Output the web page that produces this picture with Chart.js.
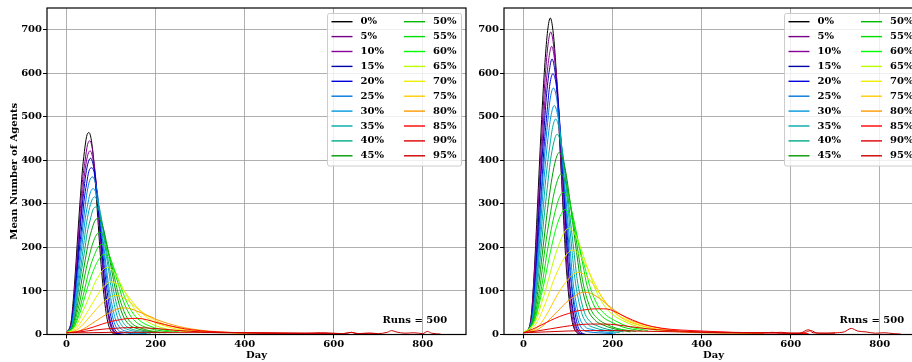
<!DOCTYPE html>
<html lang="en">
<head>
<meta charset="UTF-8" />
<title>Mean Number of Agents</title>
<script src="https://cdn.jsdelivr.net/npm/chart.js"></script>
<style>
    body { margin: 0; background: #fff; }
    #wrap { position: relative; width: 912px; height: 362px; overflow: hidden; background: #fff; }
    #leftChart { position: absolute; left: 0; top: 0; }
    #rightChart { position: absolute; left: 470px; top: 0; }
</style>
</head>
<body>
<div id="wrap">
    <canvas id="leftChart" width="470" height="362"></canvas>
    <canvas id="rightChart" width="457" height="362"></canvas>
</div>
<script>
    const pctLabels = ['0%', '5%', '10%', '15%', '20%', '25%', '30%', '35%', '40%', '45%',
        '50%', '55%', '60%', '65%', '70%', '75%', '80%', '85%', '90%', '95%'];
    const lineColors = ['#000000', '#770088', '#880099', '#0000aa', '#0000dd', '#0077dd', '#0099dd',
        '#00aaaa', '#00aa88', '#009900', '#00bb00', '#00dd00', '#00ff00', '#bbff00', '#eeee00',
        '#ffcc00', '#ff9900', '#ff0000', '#dd0000', '#cc0000'];
    const xTicks = [0, 200, 400, 600, 800];
    const yTicks = [0, 100, 200, 300, 400, 500, 600, 700];
    const xTitle = 'Day';
    const yTitle = 'Mean Number of Agents';
    const runsText = 'Runs = 500';

    // [day, mean agents] per series, left panel
    const leftSeries = [
        [[0,4],[10,28],[15,79],[20,148],[25,227],[30,302],[35,371],[40,420],[45,455],[50,464],[55,450],[60,408],[65,343],[70,269],[75,195],[80,130],[90,42],[100,7],[110,1],[125,0],[150,0]],
        [[0,4],[10,27],[16,76],[21,142],[26,218],[31,289],[36,356],[42,403],[47,436],[52,445],[57,432],[62,392],[68,329],[73,258],[78,187],[83,125],[94,40],[104,7],[114,1],[130,0],[156,0]],
        [[0,4],[11,25],[16,72],[21,135],[27,207],[32,274],[37,338],[42,382],[48,414],[53,422],[58,409],[64,371],[69,312],[74,245],[80,177],[85,118],[95,38],[106,6],[117,1],[133,0],[159,0]],
        [[0,4],[11,24],[16,69],[22,130],[27,198],[32,263],[38,324],[43,367],[49,397],[54,405],[59,393],[65,356],[70,300],[76,235],[81,170],[86,113],[97,36],[108,6],[119,1],[135,0],[162,0]],
        [[0,4],[11,23],[17,65],[22,123],[28,188],[34,249],[39,306],[45,347],[50,375],[56,383],[62,372],[67,337],[73,283],[78,222],[84,161],[90,107],[101,34],[112,6],[123,1],[140,0],[168,0]],
        [[0,4],[12,23],[17,63],[23,117],[29,177],[35,235],[41,289],[46,327],[52,354],[58,362],[64,351],[70,319],[75,270],[81,213],[87,156],[93,106],[104,38],[116,10],[128,5],[145,2],[174,1]],
        [[0,4],[12,22],[18,59],[24,108],[30,164],[36,217],[42,267],[48,302],[54,328],[60,335],[66,325],[72,296],[78,251],[84,200],[90,148],[96,103],[108,41],[120,15],[132,8],[150,4],[180,2]],
        [[0,4],[13,22],[19,56],[25,103],[32,155],[38,204],[44,251],[50,284],[57,309],[63,316],[69,307],[76,280],[82,239],[88,191],[95,144],[101,102],[113,44],[126,18],[139,11],[158,6],[189,3]],
        [[0,4],[13,21],[20,53],[26,96],[33,144],[40,189],[46,232],[53,263],[59,286],[66,293],[73,285],[79,260],[86,223],[92,179],[99,137],[106,98],[119,45],[132,21],[145,13],[165,8],[198,4]],
        [[0,4],[14,20],[21,49],[28,87],[35,131],[42,172],[49,211],[56,239],[63,260],[70,267],[77,260],[84,238],[91,204],[98,166],[105,127],[112,93],[126,45],[140,23],[154,15],[175,9],[210,4]],
        [[0,4],[15,18],[22,43],[30,77],[37,115],[44,151],[52,185],[59,210],[67,229],[74,235],[81,229],[89,210],[96,181],[104,148],[111,115],[118,86],[133,44],[148,24],[163,16],[185,9],[222,4]],
        [[0,4],[16,17],[24,39],[32,69],[40,101],[47,133],[55,162],[63,184],[71,201],[79,207],[87,202],[95,185],[103,161],[111,133],[119,106],[126,81],[142,45],[158,27],[174,18],[198,11],[237,5]],
        [[0,4],[17,17],[25,36],[34,62],[42,90],[50,118],[59,144],[67,163],[76,178],[84,184],[92,179],[101,166],[109,145],[118,121],[126,98],[134,77],[151,46],[168,29],[185,20],[210,12],[252,6]],
        [[0,4],[18,15],[27,31],[36,52],[46,75],[55,98],[64,120],[73,136],[82,149],[91,154],[100,150],[109,139],[118,123],[127,104],[137,86],[146,69],[164,43],[182,29],[200,20],[228,12],[273,6]],
        [[0,4],[20,12],[30,25],[40,41],[51,59],[61,77],[71,93],[81,107],[91,117],[101,121],[111,118],[121,110],[131,98],[141,84],[152,70],[162,58],[182,38],[202,26],[222,19],[253,11],[303,5]],
        [[0,4],[22,10],[33,19],[44,31],[55,44],[66,57],[77,69],[88,79],[99,87],[110,90],[121,88],[132,82],[143,74],[154,64],[165,55],[176,47],[198,33],[220,23],[242,17],[275,10],[330,5],[400,3]],
        [[0,4],[25,7],[38,13],[51,21],[64,30],[76,38],[89,46],[102,53],[114,59],[127,61],[140,60],[152,56],[165,51],[178,45],[191,40],[203,34],[229,25],[254,18],[279,13],[318,8],[381,4],[450,3],[520,2]],
        [[0,4],[20,6],[40,11],[60,17],[80,24],[100,30],[120,34],[140,37],[160,37],[180,34],[200,28],[220,23],[250,16],[280,11],[320,7],[360,5],[400,4],[450,3],[500,3],[550,2],[600,2]],
        [[0,4],[30,6],[60,10],[90,13],[120,15],[150,16],[180,15],[210,13],[240,10],[270,8],[300,6],[350,5],[400,4],[450,4],[500,3],[540,3],[570,4],[600,3],[620,2],[640,5],[655,2],[680,3],[700,2]],
        [[0,4],[50,4],[100,5],[150,5],[200,5],[250,5],[300,5],[350,4],[400,4],[450,3],[500,3],[550,3],[580,3],[600,2],[620,2],[630,3],[640,5],[650,2],[680,3],[700,2],[720,5],[730,9],[740,6],[760,3],[780,4],[800,2],[810,7],[820,3],[840,1]]
    ];

    // right panel
    const rightSeries = [
        [[0,4],[12,15],[18,51],[24,145],[30,269],[36,400],[42,523],[48,625],[54,698],[60,727],[66,698],[72,625],[78,509],[84,385],[90,262],[96,153],[108,36],[120,4],[132,0],[150,0]],
        [[0,4],[12,14],[18,49],[24,139],[31,257],[37,382],[43,500],[49,598],[55,667],[61,695],[67,667],[73,598],[79,487],[85,368],[92,250],[98,146],[110,35],[122,3],[134,0],[153,0]],
        [[0,4],[13,13],[19,46],[25,132],[32,245],[38,364],[44,477],[50,569],[57,636],[63,662],[69,636],[76,569],[82,463],[88,351],[95,238],[101,139],[113,33],[126,3],[139,0],[158,0]],
        [[0,4],[13,13],[19,44],[26,127],[32,234],[38,348],[45,456],[51,544],[58,608],[64,633],[70,608],[77,544],[83,443],[90,335],[96,228],[102,133],[115,32],[128,3],[141,0],[160,0]],
        [[0,4],[13,12],[20,42],[26,120],[33,222],[40,329],[46,431],[53,515],[59,575],[66,599],[73,575],[79,515],[86,419],[92,317],[99,216],[106,126],[119,30],[132,3],[145,0],[165,0]],
        [[0,4],[13,14],[20,44],[27,117],[34,213],[40,314],[47,409],[54,487],[60,543],[67,566],[74,544],[80,488],[87,400],[94,306],[101,212],[107,129],[121,38],[134,11],[147,6],[168,4],[201,2]],
        [[0,4],[14,16],[21,45],[28,113],[35,201],[41,294],[48,381],[55,453],[62,505],[69,526],[76,506],[83,456],[90,376],[97,290],[104,205],[110,129],[124,45],[138,18],[152,12],[173,7],[207,3]],
        [[0,4],[14,17],[22,46],[29,110],[36,192],[43,278],[50,359],[58,426],[65,475],[72,495],[79,477],[86,430],[94,357],[101,278],[108,200],[115,130],[130,51],[144,24],[158,16],[180,10],[216,4]],
        [[0,4],[15,18],[23,46],[30,106],[38,181],[45,260],[53,335],[60,397],[68,442],[75,460],[83,443],[90,401],[98,335],[105,263],[113,192],[120,129],[135,56],[150,29],[165,20],[188,12],[225,6]],
        [[0,4],[16,19],[24,45],[32,99],[40,167],[48,238],[56,305],[64,361],[72,401],[80,418],[88,403],[96,366],[104,307],[112,243],[120,181],[128,124],[144,59],[160,33],[176,23],[200,14],[240,6]],
        [[0,4],[17,18],[25,42],[34,90],[42,150],[50,212],[59,270],[67,318],[76,354],[84,369],[92,356],[101,324],[109,274],[118,219],[126,165],[134,116],[151,58],[168,35],[185,24],[210,14],[252,7]],
        [[0,4],[18,20],[27,43],[36,85],[45,137],[53,190],[62,241],[71,283],[80,314],[89,327],[98,317],[107,289],[116,247],[125,201],[134,156],[142,114],[160,63],[178,40],[196,29],[223,17],[267,8]],
        [[0,5],[19,20],[28,42],[37,79],[47,123],[56,169],[65,212],[74,248],[84,276],[93,287],[102,278],[112,255],[121,221],[130,182],[140,145],[149,110],[167,66],[186,44],[205,32],[233,19],[279,9]],
        [[0,5],[20,20],[30,39],[40,71],[51,108],[61,146],[71,182],[81,211],[91,234],[101,244],[111,237],[121,219],[131,191],[141,160],[152,130],[162,102],[182,65],[202,44],[222,32],[253,19],[303,9]],
        [[0,4],[22,17],[33,34],[44,59],[55,88],[65,118],[76,145],[87,168],[98,186],[109,194],[120,189],[131,175],[142,155],[153,131],[164,109],[174,88],[196,59],[218,41],[240,30],[273,18],[327,8]],
        [[0,4],[24,11],[37,23],[49,41],[61,63],[73,86],[85,106],[98,124],[110,137],[122,143],[134,139],[146,128],[159,112],[171,94],[183,76],[195,60],[220,38],[244,26],[268,19],[305,11],[366,5],[420,4]],
        [[0,4],[27,9],[41,18],[54,30],[68,45],[82,59],[95,73],[109,84],[122,93],[136,97],[150,95],[163,88],[177,78],[190,67],[204,56],[218,46],[245,31],[272,22],[299,16],[340,9],[408,4],[470,3],[540,2]],
        [[0,4],[20,12],[40,22],[60,32],[80,41],[100,48],[120,54],[140,57],[160,59],[180,59],[195,57],[210,50],[230,40],[260,27],[290,18],[330,12],[380,9],[420,7],[470,5],[520,4],[580,3],[640,2]],
        [[0,4],[30,8],[60,13],[90,18],[120,22],[150,24],[180,24],[210,22],[240,18],[270,14],[300,11],[350,8],[400,6],[450,5],[500,4],[550,4],[580,5],[600,3],[630,4],[645,9],[660,3],[700,3]],
        [[0,4],[50,6],[100,8],[150,9],[200,9],[250,8],[300,7],[350,6],[400,5],[450,4],[500,4],[540,4],[560,5],[580,3],[620,3],[640,11],[650,4],[680,3],[700,4],[720,6],[736,14],[750,8],[769,6],[790,3],[810,4],[830,2],[847,1]]
    ];

    const serif = '"DejaVu Serif", "Liberation Serif", serif';
    const tickFont = { family: serif, size: 10, weight: 'bold' };
    const gridColor = 'rgba(150,150,150,0.75)';

    // box, legend and texts drawn the matplotlib way
    const framePlugin = {
        id: 'frame',
        afterDraw(chart, args, opts) {
            const ctx = chart.ctx;
            const a = chart.chartArea;
            ctx.save();

            ctx.strokeStyle = '#000';
            ctx.lineWidth = 1.2;
            ctx.strokeRect(a.left, a.top, a.right - a.left, a.bottom - a.top);

            // legend
            const lx = a.left + 280.5, ly = a.top + 5.5;
            ctx.fillStyle = 'rgba(255,255,255,0.8)';
            ctx.strokeStyle = '#cccccc';
            ctx.lineWidth = 1;
            ctx.beginPath();
            ctx.roundRect(lx, ly, 134, 152.5, 2);
            ctx.fill();
            ctx.stroke();

            ctx.font = 'bold 10px ' + serif;
            ctx.textBaseline = 'middle';
            ctx.textAlign = 'left';
            pctLabels.forEach((lab, i) => {
                const col = Math.floor(i / 10), row = i % 10;
                const y = a.top + 13.7 + row * 14.9;
                const x0 = a.left + 284.5 + col * 72.5;
                ctx.strokeStyle = lineColors[i];
                ctx.lineWidth = 1.4;
                ctx.beginPath();
                ctx.moveTo(x0, y);
                ctx.lineTo(x0 + 21, y);
                ctx.stroke();
                ctx.fillStyle = '#000';
                ctx.fillText(lab, a.left + 313.5 + col * 72.5, y);
            });

            ctx.fillStyle = '#000';
            ctx.fillText(runsText, a.left + 335.5, a.top + 312);

            ctx.textAlign = 'center';
            ctx.fillText(xTitle, (a.left + a.right) / 2, 355.5);

            if (opts.yTitle) {
                ctx.translate(14, (a.top + a.bottom) / 2);
                ctx.rotate(-Math.PI / 2);
                ctx.fillText(yTitle, 0, 0);
            }
            ctx.restore();
        }
    };

    function makeChart(id, series, yAxisWidth, showYTitle) {
        const datasets = series.map((pts, i) => ({
            label: pctLabels[i],
            data: pts.map(p => ({ x: p[0], y: p[1] })),
            borderColor: lineColors[i],
            borderWidth: 1,
            pointRadius: 0,
            fill: false,
            cubicInterpolationMode: 'monotone',
            order: series.length - i
        }));

        return new Chart(document.getElementById(id), {
            type: 'line',
            data: { datasets },
            options: {
                responsive: false,
                animation: false,
                layout: { padding: { top: 8, right: 4, left: 0, bottom: 0 } },
                plugins: {
                    legend: { display: false },
                    tooltip: { enabled: false },
                    frame: { yTitle: showYTitle }
                },
                scales: {
                    x: {
                        type: 'linear',
                        min: -44,
                        max: 897,
                        afterBuildTicks: s => { s.ticks = xTicks.map(v => ({ value: v })); },
                        afterFit: s => { s.height = 27.5; },
                        grid: { color: gridColor, lineWidth: 1, tickColor: '#000', tickLength: 4 },
                        border: { display: false },
                        ticks: { color: '#000', font: tickFont, padding: 0, maxRotation: 0, autoSkip: false }
                    },
                    y: {
                        type: 'linear',
                        min: 0,
                        max: 750,
                        afterBuildTicks: s => { s.ticks = yTicks.map(v => ({ value: v })); },
                        afterFit: s => { s.width = yAxisWidth; },
                        grid: { color: gridColor, lineWidth: 1, tickColor: '#000', tickLength: 4 },
                        border: { display: false },
                        ticks: { color: '#000', font: tickFont, padding: 1, autoSkip: false }
                    }
                }
            },
            plugins: [framePlugin]
        });
    }

    makeChart('leftChart', leftSeries, 47, true);
    makeChart('rightChart', rightSeries, 34, false);
</script>
</body>
</html>
